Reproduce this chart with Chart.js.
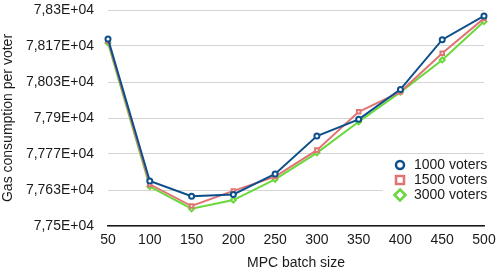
<!DOCTYPE html>
<html>
<head>
<meta charset="utf-8">
<script src="https://cdn.jsdelivr.net/npm/chart.js@4.4.1/dist/chart.umd.min.js"></script>
<style>
  html, body { margin: 0; padding: 0; background: #fff; }
  #wrap { width: 499px; height: 274px; }
</style>
</head>
<body>
<div id="wrap"><canvas id="gas"></canvas></div>
<script>
// -------------------- data
var batchSizes = ['50','100','150','200','250','300','350','400','450','500'];
var voters1000 = [78193, 77667, 77610, 77617, 77693, 77833, 77895, 78006, 78190, 78278];
var voters1500 = [78185, 77654, 77574, 77630, 77683, 77781, 77923, 77997, 78140, 78269];
var voters3000 = [78178, 77646, 77564, 77596, 77673, 77771, 77886, 77996, 78115, 78257];
var seriesNames = ['1000 voters', '1500 voters', '3000 voters'];
var yTickValues = [77500, 77633.33, 77766.67, 77900, 78033.33, 78166.67, 78300];
var yTickLabels = ['7,75E+04', '7,763E+04', '7,777E+04', '7,79E+04', '7,803E+04', '7,817E+04', '7,83E+04'];

var colBlue = '#0d4f8b', colPink = '#e07474', colGreen = '#6ad83a';
var fontFam = '"Liberation Sans", Arial, Helvetica, sans-serif';

// legend drawn inside the plot area, bottom right
var boxLegend = {
	id: 'boxLegend',
	afterDatasetsDraw: function(chart){
		var ctx = chart.ctx;
		var area = chart.chartArea;
		var x0 = area.right - 84, y0 = area.bottom - 61;
		ctx.save();
		ctx.fillStyle = '#fff';
		ctx.fillRect(x0 - 17, y0 - 10, 101, 48);
		ctx.font = '14px ' + fontFam;
		ctx.textBaseline = 'middle';
		ctx.textAlign = 'left';
		chart.data.datasets.forEach(function(ds, i){
			var cy = y0 + i * 15;
			var cx = x0;
			ctx.strokeStyle = ds.borderColor;
			ctx.lineWidth = 2.5;
			ctx.beginPath();
			if(ds.pointStyle == 'circle'){
				ctx.arc(cx, cy, 4, 0, Math.PI * 2);
			} else if(ds.pointStyle == 'rect'){
				ctx.rect(cx - 4, cy - 4, 8, 8);
			} else {
				ctx.moveTo(cx, cy - 5.5); ctx.lineTo(cx + 5.5, cy);
				ctx.lineTo(cx, cy + 5.5); ctx.lineTo(cx - 5.5, cy);
				ctx.closePath();
			}
			ctx.stroke();
			ctx.fillStyle = '#1a1a1a';
			ctx.fillText(ds.label, x0 + 14, cy + 0.5);
		});
		ctx.restore();
	}
};

function mkSet(label, vals, col, style){
	return {
		label: label,
		data: vals,
		borderColor: col,
		backgroundColor: col,
		pointBackgroundColor: '#fff',
		pointBorderColor: col,
		pointBorderWidth: 2,
		pointRadius: 2.5,
		pointStyle: style,
		borderWidth: 2,
		tension: 0,
		fill: false
	};
}

var ctx = document.getElementById('gas').getContext('2d');
window.gasChart = new Chart(ctx, {
	type: 'line',
	data: {
		labels: batchSizes,
		datasets: [
			mkSet(seriesNames[0], voters1000, colBlue, 'circle'),
			mkSet(seriesNames[1], voters1500, colPink, 'rect'),
			mkSet(seriesNames[2], voters3000, colGreen, 'rectRot')
		]
	},
	options: {
		responsive: true,
		maintainAspectRatio: false,
		animation: false,
		layout: { padding: { left: 0, right: 15, top: 10, bottom: 0 } },
		plugins: { legend: { display: false }, tooltip: { enabled: false } },
		scales: {
			x: {
				offset: false,
				grid: { display: false, drawTicks: false },
				border: { color: '#1a1a1a', width: 1.5 },
				ticks: { color: '#1a1a1a', font: { family: fontFam, size: 14 }, padding: 6, maxRotation: 0 },
				title: { display: true, text: 'MPC batch size', color: '#1a1a1a', font: { family: fontFam, size: 14 }, padding: { top: 4, bottom: 2 } },
				afterFit: function(s){ s.height = 48; s.paddingLeft = 0; s.paddingRight = 0; }
			},
			y: {
				min: 77500,
				max: 78300,
				grid: { color: '#d4d4d4', lineWidth: 1, drawTicks: false },
				border: { display: false },
				ticks: {
					color: '#1a1a1a', font: { family: fontFam, size: 14 }, padding: 14,
					callback: function(v, i){ return yTickLabels[i]; }
				},
				afterBuildTicks: function(s){
					s.ticks = yTickValues.map(function(v){ return { value: v }; });
				},
				title: { display: true, text: 'Gas consumption per voter', color: '#1a1a1a', font: { family: fontFam, size: 14 }, padding: { top: 0, bottom: 2 } },
				afterFit: function(s){ s.width = 108; s.paddingTop = 0; s.paddingBottom = 0; }
			}
		}
	},
	plugins: [boxLegend]
});
</script>
</body>
</html>
